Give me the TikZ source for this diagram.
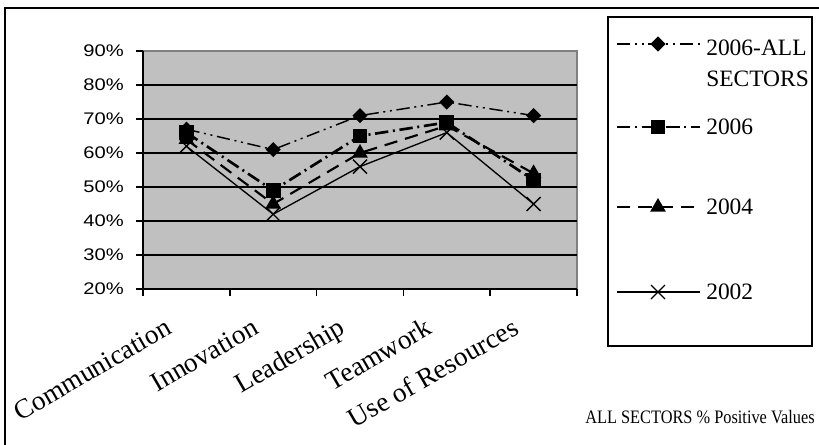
\documentclass[tikz,border=0pt]{standalone}
\usepackage{fontspec}
\usepackage{graphicx}
\setmainfont{Liberation Serif}
\newfontfamily\axisfont{Liberation Sans}
\usetikzlibrary{shapes.geometric,shapes.misc}
\definecolor{fondgris}{HTML}{C0C0C0}
\definecolor{bordgris}{HTML}{808080}
\tikzset{
  serieall/.style={line width=1.1pt, dash pattern=on 10pt off 3.5pt on 1.5pt off 3.5pt on 1.5pt off 3.5pt},
  serie06/.style={line width=2pt, dash pattern=on 10pt off 3.5pt on 1.5pt off 3.5pt},
  serie04/.style={line width=1.6pt, dash pattern=on 10pt off 6pt},
  serie02/.style={line width=1pt},
  losange/.style={diamond, fill=black, inner sep=0pt, minimum size=11.5pt},
  carre/.style={rectangle, fill=black, inner sep=0pt, minimum size=11pt},
  trigone/.style={regular polygon, regular polygon sides=3, fill=black, inner sep=0pt, minimum size=13.5pt},
  croix/.style={cross out, draw=black, line width=1pt, inner sep=0pt, minimum size=9.5pt},
  valeur/.style={inner sep=0pt, anchor=east, font=\axisfont\fontsize{12.6}{15}\selectfont},
  categorie/.style={inner sep=0pt, rotate=30, anchor=base east, font=\fontsize{20.5}{24}\selectfont},
  legende/.style={inner sep=0pt, anchor=west, align=left, font=\fontsize{17.6}{23.25}\selectfont}
}
\begin{document}
\begin{tikzpicture}[x=0.75pt,y=-0.75pt]
\useasboundingbox (0,0) rectangle (819,444);
% Cadre
\draw[line width=1.5pt] (5,450) -- (5,8) -- (830,8);

% Zone de tracé
\fill[fondgris] (143,51) rectangle (577,289);
\draw[bordgris, line width=1pt] (143,51) -- (577,51) -- (577,289);
\foreach \pct in {30,40,...,80}
  \draw[line width=1pt] (143,{51+(90-\pct)*3.4}) -- (577,{51+(90-\pct)*3.4});

% Axes et graduations
\foreach \pct in {20,30,...,90} {
  \draw[line width=1.2pt] (136,{51+(90-\pct)*3.4}) -- (143,{51+(90-\pct)*3.4});
  \node[valeur] (y\pct) at (124,{51+(90-\pct)*3.4}) {\scalebox{1.2}[1]{\pct\%}};
}
\draw[line width=1.2pt] (143,51) -- (143,289) -- (577,289);
\foreach \i in {0,...,5}
  \draw[line width=1.2pt] ({143+\i*86.8},289) -- ({143+\i*86.8},296);
\foreach \i/\nom in {1/Communication, 2/Innovation, 3/Leadership, 4/Teamwork, 5/Use of Resources}
  \node[categorie] (cat\i) at ({143+(\i-0.5)*86.8-13},333) {\nom};

% Valeurs
\foreach \i/\a/\b/\c/\d in {1/67/66/64/62, 2/61/49/45/42, 3/71/65/60/56, 4/75/69/68/66, 5/71/52/54/45} {
  \coordinate (all-\i) at ({143+(\i-0.5)*86.8},{51+(90-\a)*3.4});
  \coordinate (s06-\i) at ({143+(\i-0.5)*86.8},{51+(90-\b)*3.4});
  \coordinate (s04-\i) at ({143+(\i-0.5)*86.8},{51+(90-\c)*3.4});
  \coordinate (s02-\i) at ({143+(\i-0.5)*86.8},{51+(90-\d)*3.4});
}
\draw[serieall] (all-1) -- (all-2) -- (all-3) -- (all-4) -- (all-5);
\draw[serie06] (s06-1) -- (s06-2) -- (s06-3) -- (s06-4) -- (s06-5);
\draw[serie04] (s04-1) -- (s04-2) -- (s04-3) -- (s04-4) -- (s04-5);
\draw[serie02] (s02-1) -- (s02-2) -- (s02-3) -- (s02-4) -- (s02-5);
\foreach \i in {1,...,5} {
  \node[losange] (mall-\i) at (all-\i) {};
  \node[carre] (m06-\i) at (s06-\i) {};
  \node[trigone] (m04-\i) at (s04-\i) {};
  \node[croix] (m02-\i) at (s02-\i) {};
}

% Légende
\draw[line width=1.2pt] (608,17) rectangle (812,346);
\foreach \y/\s/\m/\n in {44/serieall/losange/all, 127/serie06/carre/06, 207/serie04/trigone/04, 292/serie02/croix/02} {
  \draw[\s, line width=1pt] (617,\y) -- (700,\y);
  \node[\m] (leg\n) at (658,\y) {};
}
\node[legende, anchor=north west] (txtall) at (706,39.5) {2006-ALL\\SECTORS};
\node[legende] (txt06) at (706,127) {2006};
\node[legende] (txt04) at (706,207) {2004};
\node[legende] (txt02) at (706,292) {2002};

\node[inner sep=0pt, anchor=base west, font=\fontsize{14.25}{17}\selectfont] (titre) at (585,423) {\scalebox{0.86}[1]{ALL SECTORS \% Positive Values}};
\end{tikzpicture}
\end{document}
